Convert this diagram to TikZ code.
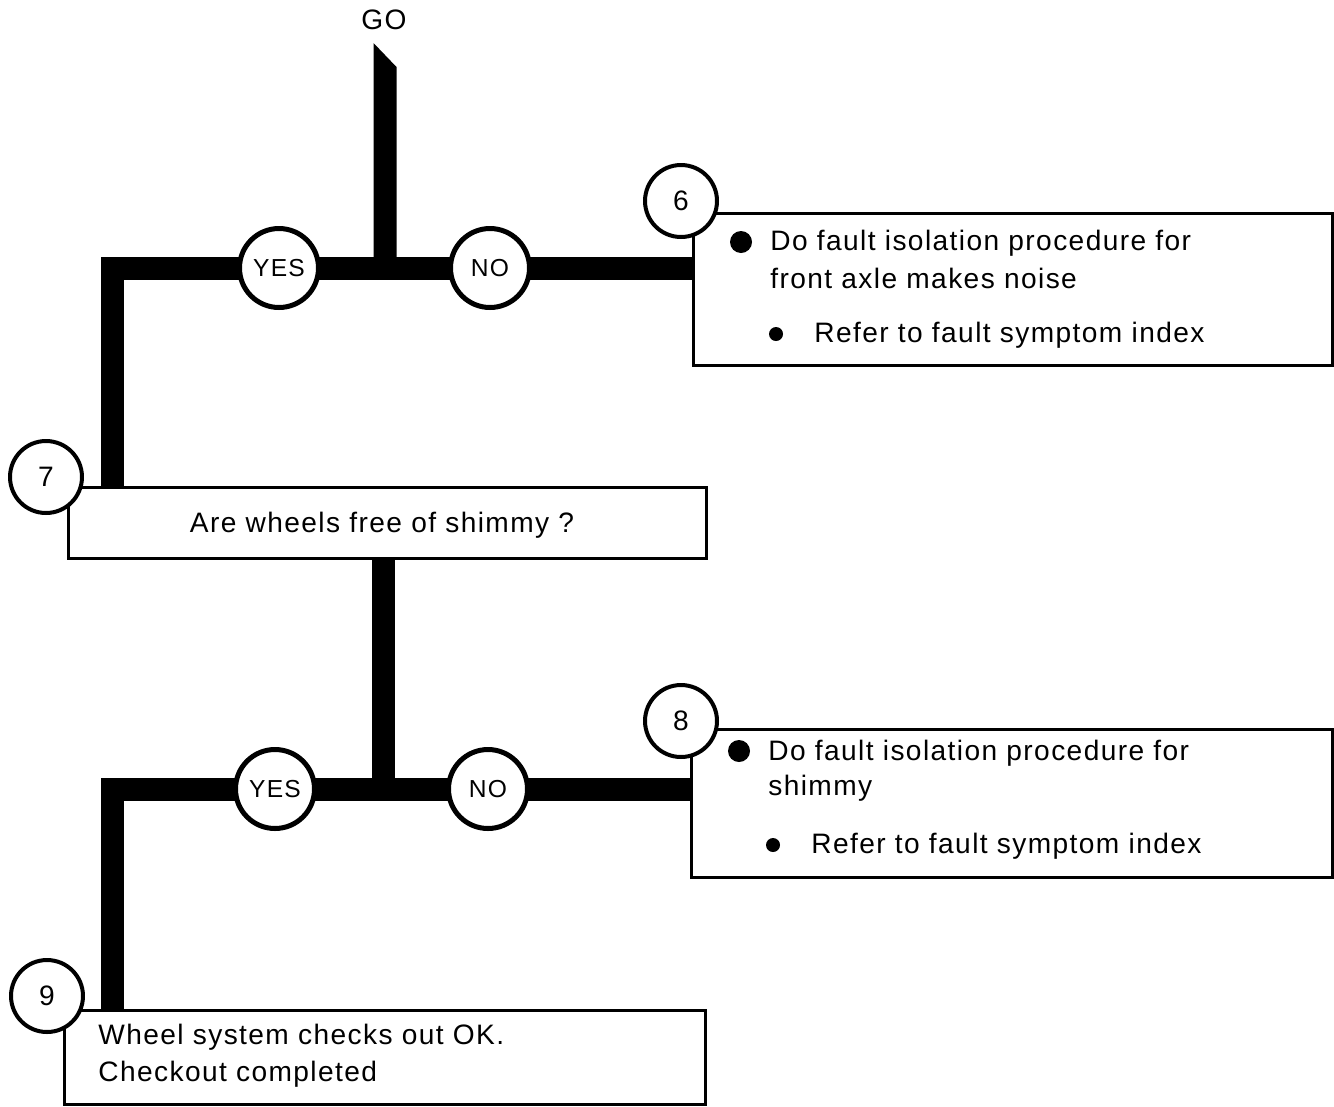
\documentclass[tikz,border=0pt]{standalone}
\usepackage{fontspec}
\setmainfont{Liberation Sans}[LetterSpace=5]
\usepackage{tikz}
\usetikzlibrary{
  calc,
  positioning
}
\definecolor{ink}{HTML}{000000}
\definecolor{paper}{HTML}{FFFFFF}
\tikzset{
  bar/.style={
    line width=0.46cm,
    draw=ink,
    line join=miter
  },
  answer/.style={
    circle,
    draw=ink,
    fill=paper,
    line width=0.1cm,
    minimum size=1.58cm,
    inner sep=0pt,
    font=\fontsize{14}{17}\selectfont
  },
  stepnum/.style={
    circle,
    draw=ink,
    fill=paper,
    line width=0.08cm,
    minimum size=1.44cm,
    inner sep=0pt,
    font=\fontsize{16}{19}\selectfont
  },
  panel/.style={
    draw=ink,
    fill=paper,
    line width=0.06cm,
    inner sep=0pt
  },
  says/.style={
    anchor=west,
    inner sep=0pt,
    font=\fontsize{16}{19}\selectfont
  },
  bigdot/.style={
    circle,
    fill=ink,
    minimum size=0.44cm,
    inner sep=0pt
  },
  smalldot/.style={
    circle,
    fill=ink,
    minimum size=0.28cm,
    inner sep=0pt
  }
}

\begin{document}
\begin{tikzpicture}[x=0.02cm, y=-0.02cm]
  \useasboundingbox (0,0) rectangle (1334,1106);
  \node[says, anchor=center] (go) at (384,20) {GO};
  \coordinate (j1) at (385,268);
  \coordinate (bend1) at (112,268);
  \coordinate (j2) at (383,789);
  \coordinate (bend2) at (112,789);

  \node[panel, minimum width=12.8cm, minimum height=3.06cm] (box6) at (1013,289.5) {};
  \node[panel, minimum width=12.78cm, minimum height=1.42cm] (box7) at (387.5,522.5) {};
  \node[panel, minimum width=12.84cm, minimum height=2.96cm] (box8) at (1012,803) {};
  \node[panel, minimum width=12.84cm, minimum height=1.88cm] (box9) at (385,1057) {};

  \fill[ink] (373.5,43) -- (396.5,67) -- (396.5,268) -- (373.5,268) -- cycle;
  \draw[bar] (box6.west |- j1) -- (bend1) -- (bend1 |- box7.north);
  \draw[bar] (j2 |- box7.south) -- (j2);
  \draw[bar] (box8.west |- j2) -- (bend2) -- (bend2 |- box9.north);

  \node[answer] (yes1) at (279,268) {YES};
  \node[answer] (no1) at (490,268) {NO};
  \node[answer] (yes2) at (275,789) {YES};
  \node[answer] (no2) at (488,789) {NO};

  \node[stepnum] (n6) at (681,201) {6};
  \node[stepnum] (n7) at (46,477) {7};
  \node[stepnum] (n8) at (681,721) {8};
  \node[stepnum] (n9) at (47,996) {9};

  \node[bigdot] (dot6) at (741,242) {};
  \node[says] (do6) at (770,243) {Do fault isolation procedure for};
  \node[says] (do6b) at (770,278) {front axle makes noise};
  \node[smalldot] (sub6) at (776,334) {};
  \node[says] (ref6) at (814,335) {Refer to fault symptom index};

  \node[says, anchor=center] (ask7) at (382,525) {Are wheels free of shimmy ?};

  \node[bigdot] (dot8) at (739,751) {};
  \node[says] (do8) at (768,753) {Do fault isolation procedure for};
  \node[says] (do8b) at (768,788) {shimmy};
  \node[smalldot] (sub8) at (773,845) {};
  \node[says] (ref8) at (811,846) {Refer to fault symptom index};

  \node[says] (ok9) at (98,1037) {Wheel system checks out OK.};
  \node[says] (done9) at (98,1074) {Checkout completed};
\end{tikzpicture}
\end{document}
